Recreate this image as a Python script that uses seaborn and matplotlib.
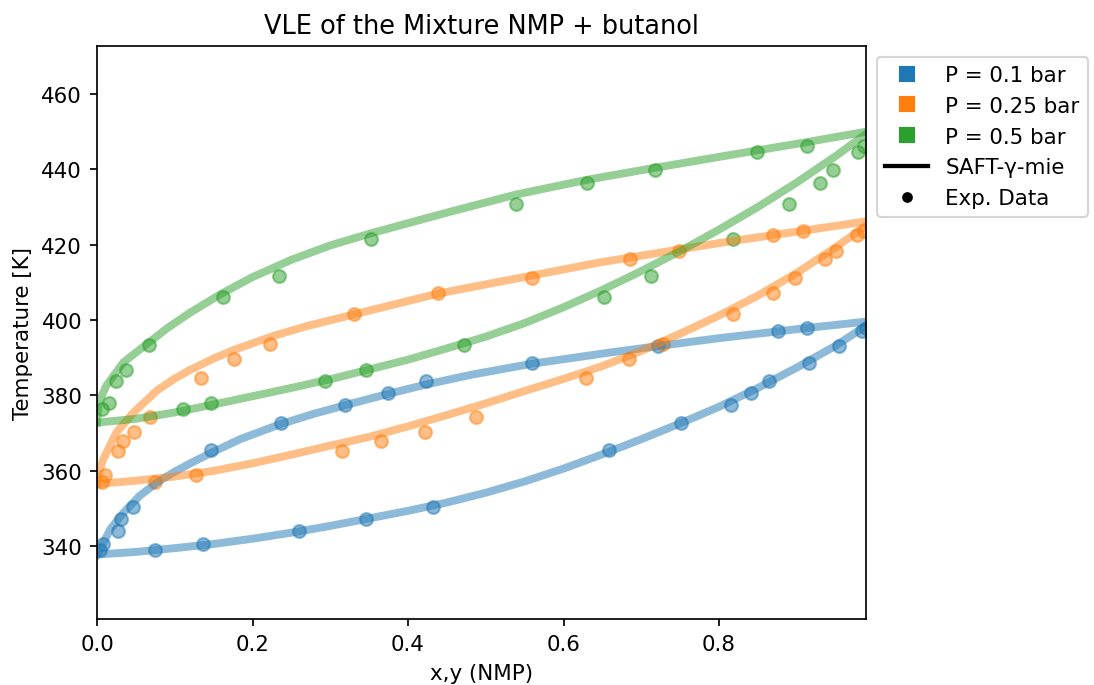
import matplotlib
matplotlib.use("Agg")
import matplotlib.pyplot as plt
from matplotlib.lines import Line2D
import seaborn as sns

# SAFT-gamma-mie curves, 0.1 bar
x_bub_01 = [0, 0.05, 0.1, 0.15, 0.2, 0.25, 0.3, 0.35, 0.4, 0.45, 0.5, 0.55, 0.6, 0.65, 0.7, 0.75, 0.8, 0.85, 0.9, 0.95, 0.99]
T_bub_01 = [337.8, 338.5, 339.5, 340.6, 342.0, 343.6, 345.4, 347.4, 349.4, 351.6, 354.2, 357.2, 360.6, 364.4, 368.4, 372.6, 377.0, 382.0, 387.4, 393.2, 398.6]
y_dew_01 = [0, 0.004, 0.017, 0.034, 0.055, 0.077, 0.1, 0.12, 0.146, 0.184, 0.236, 0.28, 0.319, 0.374, 0.423, 0.484, 0.559, 0.66, 0.722, 0.8, 0.876, 0.913, 0.99]
T_dew_01 = [337.8, 339.2, 344.5, 348.9, 353.4, 356.9, 359.8, 362.0, 364.7, 368.4, 372.4, 375.2, 377.4, 380.4, 382.9, 385.6, 388.4, 391.4, 393.1, 395.2, 397.0, 397.9, 399.6]

# 0.25 bar
x_bub_025 = [0, 0.05, 0.1, 0.15, 0.2, 0.25, 0.3, 0.35, 0.4, 0.45, 0.5, 0.55, 0.6, 0.65, 0.7, 0.75, 0.8, 0.85, 0.9, 0.95, 0.99]
T_bub_025 = [356.5, 357.4, 358.5, 360.0, 362.0, 364.3, 366.7, 369.0, 371.8, 374.8, 377.9, 381.2, 384.4, 387.8, 391.8, 396.4, 401.2, 406.5, 412.5, 419.3, 425.2]
y_dew_025 = [0, 0.003, 0.008, 0.025, 0.047, 0.077, 0.1, 0.12, 0.15, 0.175, 0.227, 0.27, 0.313, 0.438, 0.559, 0.647, 0.748, 0.818, 0.908, 0.99]
T_dew_025 = [356.5, 360.0, 363.1, 370.2, 375.5, 381.3, 384.5, 386.8, 389.8, 392.0, 395.8, 398.4, 400.6, 407.0, 411.8, 415.3, 418.7, 421.0, 423.7, 426.2]

# 0.5 bar
x_bub_05 = [0, 0.05, 0.1, 0.15, 0.2, 0.25, 0.3, 0.35, 0.4, 0.45, 0.5, 0.55, 0.6, 0.65, 0.7, 0.75, 0.8, 0.85, 0.9, 0.95, 0.99]
T_bub_05 = [372.8, 373.8, 375.5, 377.6, 379.8, 382.0, 384.3, 386.9, 389.5, 392.5, 395.6, 399.2, 403.4, 408.0, 413.0, 418.3, 424.0, 430.0, 436.5, 443.5, 449.5]
y_dew_05 = [0, 0.002, 0.012, 0.034, 0.067, 0.09, 0.12, 0.16, 0.2, 0.25, 0.3, 0.352, 0.45, 0.539, 0.630, 0.718, 0.849, 0.913, 0.99]
T_dew_05 = [372.8, 378.0, 382.6, 388.8, 394.1, 397.8, 402.0, 407.0, 411.4, 416.0, 419.8, 423.0, 428.5, 433.3, 437.2, 440.4, 445.0, 447.2, 450.0]

# experimental data (T, liquid x, vapour y)
T_exp_01 = [339.0, 340.5, 344.0, 347.3, 350.5, 365.4, 372.7, 377.4, 380.6, 383.8, 388.6, 393.1, 397.1, 398.0]
x_exp_01 = [0.075, 0.136, 0.260, 0.346, 0.432, 0.659, 0.751, 0.815, 0.841, 0.864, 0.916, 0.954, 0.984, 0.989]
y_exp_01 = [0.004, 0.008, 0.027, 0.031, 0.046, 0.147, 0.237, 0.319, 0.374, 0.423, 0.559, 0.722, 0.876, 0.913]

T_exp_025 = [357.1, 359.0, 365.3, 368.0, 370.4, 374.3, 384.6, 389.6, 393.6, 401.6, 407.2, 411.2, 416.2, 418.4, 422.6, 423.6]
x_exp_025 = [0.074, 0.127, 0.315, 0.365, 0.422, 0.487, 0.629, 0.684, 0.728, 0.818, 0.869, 0.898, 0.936, 0.950, 0.978, 0.986]
y_exp_025 = [0.006, 0.010, 0.027, 0.033, 0.048, 0.068, 0.134, 0.176, 0.222, 0.330, 0.438, 0.559, 0.686, 0.748, 0.869, 0.908]

T_exp_05 = [376.5, 378.1, 383.8, 386.8, 393.5, 406.0, 411.8, 421.5, 430.8, 436.3, 439.7, 444.5, 446.2]
x_exp_05 = [0.111, 0.146, 0.293, 0.346, 0.472, 0.652, 0.713, 0.818, 0.890, 0.930, 0.947, 0.979, 0.986]
y_exp_05 = [0.006, 0.015, 0.024, 0.037, 0.067, 0.162, 0.234, 0.352, 0.539, 0.630, 0.718, 0.849, 0.913]

labels = ["P = 0.1 bar", "P = 0.25 bar", "P = 0.5 bar"]
colors = sns.color_palette("tab10", 3)

model = [
    (x_bub_01, T_bub_01, y_dew_01, T_dew_01),
    (x_bub_025, T_bub_025, y_dew_025, T_dew_025),
    (x_bub_05, T_bub_05, y_dew_05, T_dew_05),
]
exp = [
    (T_exp_01, x_exp_01, y_exp_01),
    (T_exp_025, x_exp_025, y_exp_025),
    (T_exp_05, x_exp_05, y_exp_05),
]

DPI = 154
fig = plt.figure(figsize=(1094 / DPI, 686 / DPI), dpi=DPI)
ax = fig.add_axes([0.0887, 0.0962, 0.7029, 0.8353])

for (xb, Tb, yd, Td), (Te, xe, ye), c in zip(model, exp, colors):
    sns.lineplot(x=xb, y=Tb, color=c, lw=3.7, alpha=0.5, sort=False, ax=ax)
    sns.lineplot(x=yd, y=Td, color=c, lw=3.7, alpha=0.5, sort=False, ax=ax)
    sns.scatterplot(x=xe, y=Te, color=c, alpha=0.5, s=36, edgecolor=c, linewidth=1, ax=ax)
    sns.scatterplot(x=ye, y=Te, color=c, alpha=0.5, s=36, edgecolor=c, linewidth=1, ax=ax)

ax.set_xlim(0, 0.989)
ax.set_ylim(320.7, 472.7)
ax.set_xticks([0.0, 0.2, 0.4, 0.6, 0.8])
ax.set_xlabel("x,y (NMP)")
ax.set_ylabel("Temperature [K]")
ax.set_title("VLE of the Mixture NMP + butanol")

handles = [Line2D([], [], marker="s", color=c, ls="none", markersize=7) for c in colors]
handles.append(Line2D([], [], color="black", lw=2))
handles.append(Line2D([], [], marker="o", color="black", ls="none", markersize=4))
ax.legend(handles, labels + ["SAFT-γ-mie", "Exp. Data"],
          loc="upper left", bbox_to_anchor=(1, 1))

fig.savefig("out.png", dpi=DPI)
